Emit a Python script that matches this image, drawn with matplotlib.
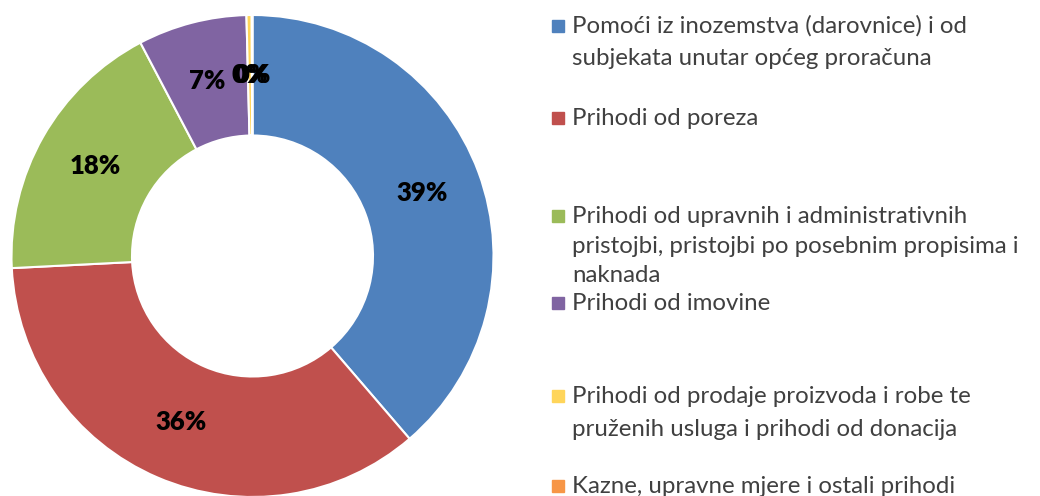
import matplotlib
matplotlib.use('Agg')
import matplotlib.pyplot as plt
import numpy as np

# data
categories = [['Pomoći iz inozemstva (darovnice) i od', 'subjekata unutar općeg proračuna'],
              ['Prihodi od poreza'],
              ['Prihodi od upravnih i administrativnih', 'pristojbi, pristojbi po posebnim propisima i',
               'naknada'],
              ['Prihodi od imovine'],
              ['Prihodi od prodaje proizvoda i robe te', 'pruženih usluga i prihodi od donacija'],
              ['Kazne, upravne mjere i ostali prihodi']]
shares = [38.7, 35.5, 18.1, 7.3, 0.35, 0.05]
pct_labels = ['39%', '36%', '18%', '7%', '0%', '0%']
colors = ['#4F81BD', '#C0504D', '#9BBB59', '#8064A2', '#FFD55A', '#F79646']

# baselines of legend lines (pixels from top)
legend_base = [[33, 65], [125], [223, 253, 282], [310], [403, 436], [493]]

W, H = 1040, 496
fig = plt.figure(figsize=(W / 100, H / 100), dpi=100)

R = 241
cx, cy = 252.5, 256
ax = fig.add_axes([(cx - R) / W, (H - cy - R) / H, 2 * R / W, 2 * R / H])
wedges, _ = ax.pie(shares, colors=colors, startangle=90, counterclock=False,
                   radius=1.0, wedgeprops=dict(width=0.5, edgecolor='white', linewidth=1.5))
ax.set_xlim(-1, 1)
ax.set_ylim(-1, 1)
ax.set_aspect('equal')
ax.axis('off')

for w, lab in zip(wedges, pct_labels):
    ang = np.deg2rad((w.theta1 + w.theta2) / 2)
    x, y = 0.75 * np.cos(ang), 0.75 * np.sin(ang)
    ax.text(x, y, lab, ha='center', va='center', fontsize=18.5, fontweight='heavy',
            family='Lato', color='black')

# legend
for lines, col, bases in zip(categories, colors, legend_base):
    fig.patches.append(plt.Rectangle((552 / W, 1 - (bases[0] - 1) / H), 12 / W, 12 / H,
                                     transform=fig.transFigure, color=col, figure=fig))
    for txt, b in zip(lines, bases):
        fig.text(572 / W, 1 - b / H, txt, ha='left', va='baseline', fontsize=17.3,
                 family='Lato', color='#404040')

fig.savefig('out.png', dpi=100)
